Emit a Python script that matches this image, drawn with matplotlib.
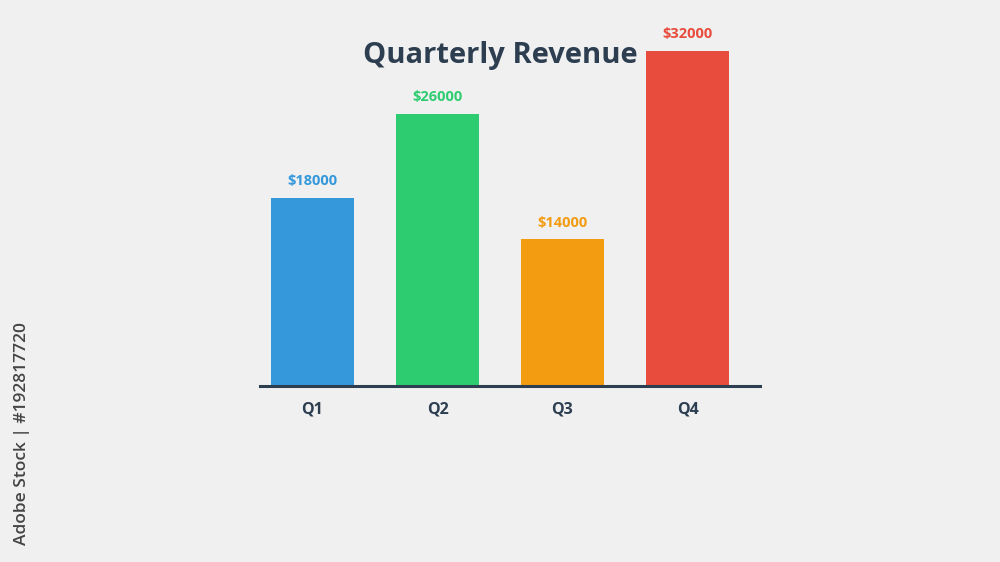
import matplotlib
matplotlib.use("Agg")
import matplotlib.pyplot as plt

categories = ["Q1", "Q2", "Q3", "Q4"]
revenue = [18000, 26000, 14000, 32000]
colors = ["#3498db", "#2ecc71", "#f39c12", "#e74c3c"]
title = "Quarterly Revenue"

plt.rcParams['font.family'] = ['Open Sans', 'DejaVu Sans']

fig = plt.figure(figsize=(10, 5.62), dpi=100, facecolor="#f0f0f0")
ax = fig.add_axes([0.26, 176/562, 0.5, 335/562])
ax.set_facecolor("#f0f0f0")

x = list(range(len(categories)))
ax.bar(x, revenue, width=0.664, color=colors, zorder=2)
ax.set_xlim(-0.42, 3.58)
ax.set_ylim(0, 32000)

for xi, v, c in zip(x, revenue, colors):
    ax.annotate(f"${v}", (xi, v), xytext=(0, 7), textcoords="offset points",
                ha="center", va="bottom", fontsize=10.5, fontweight="bold",
                color=c, annotation_clip=False)

for s in ["top", "right", "left"]:
    ax.spines[s].set_visible(False)
ax.spines["bottom"].set_color("#2c3e50")
ax.spines["bottom"].set_linewidth(2.2)
ax.spines["bottom"].set_zorder(3)
ax.set_yticks([])
ax.set_xticks(x)
ax.set_xticklabels(categories, fontsize=11.5, fontweight="bold", color="#2c3e50")
ax.tick_params(axis="x", length=0, pad=11)

fig.text(0.5, 1 - 55/562, title, ha="center", va="center", fontsize=21,
         fontweight="bold", color="#2c3e50")

fig.text(0.022, 1 - 434/562, "Adobe Stock | #192817720", rotation=90,
         ha="center", va="center", fontsize=12.5, fontweight="semibold",
         color="#444444")

fig.savefig("out.png", dpi=100, facecolor=fig.get_facecolor())
